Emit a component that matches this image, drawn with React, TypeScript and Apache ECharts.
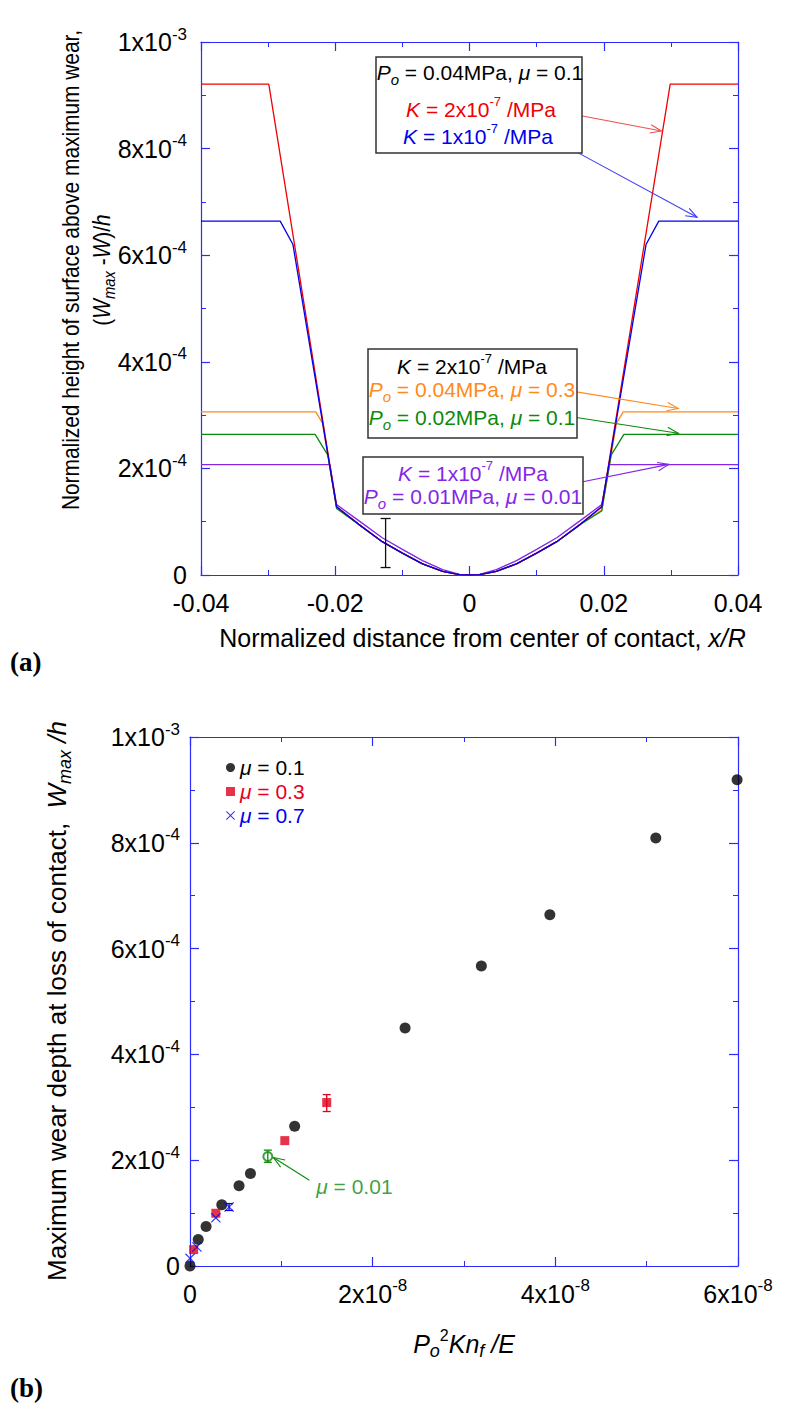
import React, { useEffect, useRef } from "react";
import * as echarts from "echarts";

const FONT = "'Liberation Sans', Arial, Helvetica, sans-serif";
const SERIF = "'Liberation Serif', 'Times New Roman', serif";
const AXIS_BLUE = "#2b2bff";
const RED = "#f00000";
const BLUE = "#0000ee";
const ORANGE = "#ff8a1c";
const GREEN = "#0b8a0b";
const PURPLE = "#8526e6";

// ---------- Tick labels ----------
const aXTickLabels = ["-0.04", "-0.02", "0", "0.02", "0.04"];
const aYTickLabels = ["0", "2x10^-4", "4x10^-4", "6x10^-4", "8x10^-4", "1x10^-3"];
const bXTickLabels = ["0", "2x10^-8", "4x10^-8", "6x10^-8"];
const bYTickLabels = ["0", "2x10^-4", "4x10^-4", "6x10^-4", "8x10^-4", "1x10^-3"];

// ---------- Panel (a): wear profiles ----------
const bowlX = [-0.0165, -0.013, -0.01, -0.007, -0.004, -0.0015, 0, 0.0015, 0.004, 0.007, 0.01, 0.013, 0.0165];
const bowlY = [0.95e-4, 0.625e-4, 0.41e-4, 0.21e-4, 0.07e-4, 0.005e-4, 0, 0.005e-4, 0.07e-4, 0.21e-4, 0.41e-4, 0.625e-4, 0.95e-4];
const purpleBowlY = [1.02e-4, 0.7e-4, 0.48e-4, 0.27e-4, 0.1e-4, 0.01e-4, 0, 0.01e-4, 0.1e-4, 0.27e-4, 0.48e-4, 0.7e-4, 1.02e-4];

const redLeftX = [-0.04, -0.0299, -0.0198];
const redLeftY = [9.21e-4, 9.21e-4, 1.28e-4];
const redRightX = [0.0197, 0.0299, 0.04];
const redRightY = [1.28e-4, 9.21e-4, 9.21e-4];

const blueLeftX = [-0.04, -0.0282, -0.0263, -0.0198];
const blueLeftY = [6.64e-4, 6.64e-4, 6.2e-4, 1.28e-4];
const blueRightX = [0.0197, 0.0263, 0.0282, 0.04];
const blueRightY = [1.28e-4, 6.2e-4, 6.64e-4, 6.64e-4];

const orangeLeftX = [-0.04, -0.0229, -0.0219, -0.0198];
const orangeLeftY = [3.06e-4, 3.06e-4, 2.85e-4, 1.26e-4];
const orangeRightX = [0.0197, 0.0219, 0.0229, 0.04];
const orangeRightY = [1.22e-4, 2.85e-4, 3.06e-4, 3.06e-4];

const greenLeftX = [-0.04, -0.023, -0.0211, -0.0198];
const greenLeftY = [2.64e-4, 2.64e-4, 2.25e-4, 1.25e-4];
const greenRightX = [0.0197, 0.0211, 0.023, 0.04];
const greenRightY = [1.2e-4, 2.25e-4, 2.64e-4, 2.64e-4];

const purpleLeftX = [-0.04, -0.0208, -0.0198];
const purpleLeftY = [2.07e-4, 2.07e-4, 1.32e-4];
const purpleRightX = [0.0197, 0.0208, 0.04];
const purpleRightY = [1.32e-4, 2.07e-4, 2.07e-4];

// error bar in (a)
const aErrX = [-0.0125];
const aErrLow = [0.14e-4];
const aErrHigh = [1.06e-4];

// annotation arrows in (a)
const aArrowX1 = [0.0135, 0.014, 0.0157, 0.0157, 0.0145];
const aArrowY1 = [8.69e-4, 8.07e-4, 3.44e-4, 2.96e-4, 1.69e-4];
const aArrowX2 = [0.0286, 0.0339, 0.0311, 0.0311, 0.0297];
const aArrowY2 = [8.33e-4, 6.71e-4, 3.125e-4, 2.66e-4, 2.075e-4];
const aArrowColors = ["#f05050", "#4040f0", ORANGE, GREEN, PURPLE];

// ---------- Panel (b): maximum wear depth ----------
const mu01X = [0, 0.09e-8, 0.176e-8, 0.348e-8, 0.537e-8, 0.662e-8, 1.146e-8, 2.355e-8, 3.19e-8, 3.94e-8, 5.1e-8, 5.99e-8];
const mu01Y = [0, 0.5e-4, 0.746e-4, 1.158e-4, 1.515e-4, 1.75e-4, 2.64e-4, 4.5e-4, 5.67e-4, 6.64e-4, 8.09e-4, 9.19e-4];
const mu03X = [0.04e-8, 0.283e-8, 1.038e-8, 1.497e-8];
const mu03Y = [0.31e-4, 0.997e-4, 2.37e-4, 3.09e-4];
const mu07X = [0, 0.075e-8, 0.283e-8, 0.428e-8];
const mu07Y = [0.145e-4, 0.36e-4, 0.91e-4, 1.115e-4];
const mu001X = [0.852e-8];
const mu001Y = [2.07e-4];

const bErrX = [1.497e-8, 0.428e-8, 0.852e-8];
const bErrLow = [2.92e-4, 1.05e-4, 1.96e-4];
const bErrHigh = [3.24e-4, 1.18e-4, 2.19e-4];
const bErrColors = ["#e0001b", BLUE, GREEN];

const bArrowX1 = [1.307e-8];
const bArrowY1 = [1.62e-4];
const bArrowX2 = [0.913e-8];
const bArrowY2 = [2.05e-4];

const bNoteX = [1.8e-8];
const bNoteY = [1.51e-4];

const XPATH =
  "path://M0,0.8L0.8,0L5,4.2L9.2,0L10,0.8L5.8,5L10,9.2L9.2,10L5,5.8L0.8,10L0,9.2L4.2,5Z";

const pairs = (xs: number[], ys: number[]) => xs.map((x, i) => [x, ys[i]]);

function tickRich(size: number) {
  const s = Math.round(size * 0.66);
  return {
    n: { fontSize: size, fontFamily: FONT, color: "#000", lineHeight: size + 8 },
    sup: { fontSize: s, fontFamily: FONT, color: "#000", verticalAlign: "top", lineHeight: s },
  };
}
function richTick(s: string) {
  const [m, e] = s.split("^");
  return e ? `{n|${m}}{sup|${e}}` : `{n|${m}}`;
}

// zrender-style rich dictionary for graphic texts
function zrRich(color: string, size: number) {
  const small = Math.round(size * 0.62);
  return {
    n: { fill: color, fontSize: size, fontFamily: FONT, lineHeight: size + 8 },
    i: { fill: color, fontSize: size, fontFamily: FONT, fontStyle: "italic", lineHeight: size + 8 },
    sup: { fill: color, fontSize: small, fontFamily: FONT, verticalAlign: "top", lineHeight: small },
    sub: { fill: color, fontSize: small + 2, fontFamily: FONT, fontStyle: "italic", verticalAlign: "bottom", lineHeight: small + 2 },
  };
}
function optRich(color: string, size: number) {
  const small = Math.round(size * 0.62);
  return {
    n: { color, fontSize: size, fontFamily: FONT, lineHeight: size + 8 },
    i: { color, fontSize: size, fontFamily: FONT, fontStyle: "italic", lineHeight: size + 8 },
    sup: { color, fontSize: small, fontFamily: FONT, verticalAlign: "top", lineHeight: small },
    sub: { color, fontSize: small + 2, fontFamily: FONT, fontStyle: "italic", verticalAlign: "bottom", lineHeight: small + 2 },
  };
}

function axisStyle() {
  return {
    axisLine: { show: true, onZero: false, lineStyle: { color: AXIS_BLUE, width: 1.2 } },
    axisTick: { show: true, inside: true, length: 9, lineStyle: { color: AXIS_BLUE, width: 1.2 } },
    minorTick: { show: true, splitNumber: 2, length: 5, lineStyle: { color: AXIS_BLUE, width: 1 } },
    splitLine: { show: false },
    minorSplitLine: { show: false },
  };
}

function errRender(capHalf: number) {
  return (params: any, api: any) => {
    const x = api.value(0);
    const a = api.coord([x, api.value(1)]);
    const b = api.coord([x, api.value(2)]);
    const color = api.visual("color");
    const st = { stroke: color, lineWidth: 1.3 };
    return {
      type: "group",
      children: [
        { type: "line", shape: { x1: a[0], y1: a[1], x2: b[0], y2: b[1] }, style: st },
        { type: "line", shape: { x1: a[0] - capHalf, y1: a[1], x2: a[0] + capHalf, y2: a[1] }, style: st },
        { type: "line", shape: { x1: b[0] - capHalf, y1: b[1], x2: b[0] + capHalf, y2: b[1] }, style: st },
      ],
    };
  };
}

function arrowRender(params: any, api: any) {
  const p1 = api.coord([api.value(0), api.value(1)]);
  const p2 = api.coord([api.value(2), api.value(3)]);
  const color = api.visual("color");
  const ang = Math.atan2(p2[1] - p1[1], p2[0] - p1[0]);
  const L = 12;
  const sp = 0.36;
  const h1 = [p2[0] - L * Math.cos(ang - sp), p2[1] - L * Math.sin(ang - sp)];
  const h2 = [p2[0] - L * Math.cos(ang + sp), p2[1] - L * Math.sin(ang + sp)];
  return {
    type: "group",
    children: [
      { type: "line", shape: { x1: p1[0], y1: p1[1], x2: p2[0], y2: p2[1] }, style: { stroke: color, lineWidth: 1.1 } },
      { type: "polyline", shape: { points: [h1, p2, h2] }, style: { stroke: color, lineWidth: 1.1, fill: null } },
    ],
  };
}

function buildOption() {
  const G0 = { left: 201, top: 42, width: 537, height: 533 };
  const G1 = { left: 190, top: 737, width: 548, height: 529 };
  const TICK = 25;

  const profile = (name: string, color: string, lx: number[], ly: number[], by: number[], rx: number[], ry: number[], z: number) => ({
    name,
    type: "line",
    xAxisIndex: 0,
    yAxisIndex: 0,
    symbol: "none",
    z,
    lineStyle: { color, width: 1.3 },
    itemStyle: { color },
    data: [...pairs(lx, ly), ...pairs(bowlX, by), ...pairs(rx, ry)],
  });

  const boxLine = (text: string, color: string, x: number, y: number) => ({
    type: "text",
    x,
    y,
    z: 101,
    style: { text, rich: zrRich(color, 21), align: "center", verticalAlign: "middle", fill: color, fontSize: 21, fontFamily: FONT },
  });
  const boxRect = (x: number, y: number, w: number, h: number) => ({
    type: "rect",
    z: 100,
    shape: { x, y, width: w, height: h },
    style: { fill: "#fff", stroke: "#333", lineWidth: 1.5 },
  });

  return {
    animation: false,
    backgroundColor: "#fff",
    grid: [
      { ...G0, containLabel: false },
      { ...G1, containLabel: false },
    ],
    xAxis: [
      {
        type: "value", gridIndex: 0, position: "bottom", min: -0.04, max: 0.04, interval: 0.02,
        ...axisStyle(),
        axisLabel: { margin: 11, formatter: (v: number) => richTick(aXTickLabels[Math.round((v + 0.04) / 0.02)] ?? ""), rich: tickRich(TICK) },
        name: "{n|Normalized distance from center of contact, }{i|x/R}",
        nameLocation: "middle", nameGap: 46,
        nameTextStyle: { rich: optRich("#000", 25), padding: [0, 0, 0, 26] },
      },
      { type: "value", gridIndex: 0, position: "top", min: -0.04, max: 0.04, interval: 0.02, ...axisStyle(), axisLabel: { show: false } },
      {
        type: "value", gridIndex: 1, position: "bottom", min: 0, max: 6e-8, interval: 2e-8,
        ...axisStyle(),
        axisLabel: { margin: 11, formatter: (v: number) => richTick(bXTickLabels[Math.round(v / 2e-8)] ?? ""), rich: tickRich(TICK) },
        name: "{i|P}{sub|o}{sup|2}{i|Kn}{sub|f}{i| /E}",
        nameLocation: "middle", nameGap: 61,
        nameTextStyle: { rich: optRich("#000", 25) },
      },
      { type: "value", gridIndex: 1, position: "top", min: 0, max: 6e-8, interval: 2e-8, ...axisStyle(), axisLabel: { show: false } },
    ],
    yAxis: [
      {
        type: "value", gridIndex: 0, position: "left", min: 0, max: 1e-3, interval: 2e-4,
        ...axisStyle(),
        axisLabel: { margin: 14, formatter: (v: number) => richTick(aYTickLabels[Math.round(v / 2e-4)] ?? ""), rich: tickRich(TICK) },
      },
      { type: "value", gridIndex: 0, position: "right", min: 0, max: 1e-3, interval: 2e-4, ...axisStyle(), axisLabel: { show: false } },
      {
        type: "value", gridIndex: 1, position: "left", min: 0, max: 1e-3, interval: 2e-4,
        ...axisStyle(),
        axisLabel: { margin: 10, formatter: (v: number) => richTick(bYTickLabels[Math.round(v / 2e-4)] ?? ""), rich: tickRich(TICK) },
      },
      { type: "value", gridIndex: 1, position: "right", min: 0, max: 1e-3, interval: 2e-4, ...axisStyle(), axisLabel: { show: false } },
    ],
    legend: {
      orient: "vertical",
      left: 221,
      top: 752,
      itemWidth: 9,
      itemHeight: 9,
      itemGap: 3,
      selectedMode: false,
      formatter: (name: string) => {
        const k = name === "μ = 0.1" ? "1" : name === "μ = 0.3" ? "3" : "7";
        return `{i${k}|μ}{n${k}|${name.slice(1)}}`;
      },
      textStyle: {
        fontSize: 21,
        fontFamily: FONT,
        rich: {
          i1: { color: "#000", fontStyle: "italic", fontSize: 21, fontFamily: FONT, lineHeight: 24 },
          n1: { color: "#000", fontSize: 21, fontFamily: FONT, lineHeight: 24 },
          i3: { color: "#e8001c", fontStyle: "italic", fontSize: 21, fontFamily: FONT, lineHeight: 24 },
          n3: { color: "#e8001c", fontSize: 21, fontFamily: FONT, lineHeight: 24 },
          i7: { color: BLUE, fontStyle: "italic", fontSize: 21, fontFamily: FONT, lineHeight: 24 },
          n7: { color: BLUE, fontSize: 21, fontFamily: FONT, lineHeight: 24 },
        },
      },
      data: [
        { name: "μ = 0.1", icon: "circle", itemStyle: { color: "#000" } },
        { name: "μ = 0.3", icon: "rect" },
        { name: "μ = 0.7", icon: XPATH },
      ],
    },
    series: [
      profile("Po=0.04MPa, μ=0.3, K=2e-7", ORANGE, orangeLeftX, orangeLeftY, bowlY, orangeRightX, orangeRightY, 2),
      profile("Po=0.02MPa, μ=0.1, K=2e-7", GREEN, greenLeftX, greenLeftY, bowlY, greenRightX, greenRightY, 3),
      profile("Po=0.01MPa, μ=0.01, K=1e-7", PURPLE, purpleLeftX, purpleLeftY, purpleBowlY, purpleRightX, purpleRightY, 4),
      profile("K=2e-7, Po=0.04MPa, μ=0.1", RED, redLeftX, redLeftY, bowlY, redRightX, redRightY, 5),
      profile("K=1e-7, Po=0.04MPa, μ=0.1", BLUE, blueLeftX, blueLeftY, bowlY, blueRightX, blueRightY, 6),
      {
        name: "error (a)", type: "custom", xAxisIndex: 0, yAxisIndex: 0, z: 7,
        itemStyle: { color: "#111" },
        encode: { x: 0, y: [1, 2] },
        renderItem: errRender(5),
        data: aErrX.map((x, i) => [x, aErrLow[i], aErrHigh[i]]),
      },
      {
        name: "arrows (a)", type: "custom", xAxisIndex: 0, yAxisIndex: 0, z: 8,
        encode: { x: [0, 2], y: [1, 3] },
        renderItem: arrowRender,
        data: aArrowX1.map((x, i) => ({ value: [x, aArrowY1[i], aArrowX2[i], aArrowY2[i]], itemStyle: { color: aArrowColors[i] } })),
      },
      // panel (b)
      {
        name: "μ = 0.01", type: "scatter", xAxisIndex: 2, yAxisIndex: 2, z: 4,
        symbol: "emptyCircle", symbolSize: 9,
        itemStyle: { color: GREEN, borderColor: GREEN, borderWidth: 1.2 },
        data: pairs(mu001X, mu001Y),
      },
      {
        name: "μ = 0.3", type: "scatter", xAxisIndex: 2, yAxisIndex: 2, z: 5,
        symbol: "rect", symbolSize: 9,
        itemStyle: { color: "#e0001b" },
        data: pairs(mu03X, mu03Y),
      },
      {
        name: "μ = 0.7", type: "scatter", xAxisIndex: 2, yAxisIndex: 2, z: 6,
        symbol: XPATH, symbolSize: 10,
        itemStyle: { color: BLUE },
        data: pairs(mu07X, mu07Y),
      },
      {
        name: "μ = 0.1", type: "scatter", xAxisIndex: 2, yAxisIndex: 2, z: 4,
        symbol: "circle", symbolSize: 11,
        itemStyle: { color: "#000" },
        data: pairs(mu01X, mu01Y),
      },
      {
        name: "error (b)", type: "custom", xAxisIndex: 2, yAxisIndex: 2, z: 7,
        encode: { x: 0, y: [1, 2] },
        renderItem: errRender(4),
        data: bErrX.map((x, i) => ({ value: [x, bErrLow[i], bErrHigh[i]], itemStyle: { color: bErrColors[i] } })),
      },
      {
        name: "arrow (b)", type: "custom", xAxisIndex: 2, yAxisIndex: 2, z: 8,
        encode: { x: [0, 2], y: [1, 3] },
        itemStyle: { color: GREEN },
        renderItem: arrowRender,
        data: bArrowX1.map((x, i) => [x, bArrowY1[i], bArrowX2[i], bArrowY2[i]]),
      },
      {
        name: "note μ = 0.01", type: "scatter", xAxisIndex: 2, yAxisIndex: 2, z: 9,
        symbolSize: 1,
        itemStyle: { color: "rgba(0,0,0,0)" },
        label: { show: true, position: "inside", formatter: "{i|μ}{n| = 0.01}", rich: optRich(GREEN, 21) },
        data: pairs(bNoteX, bNoteY),
      },
    ],
    graphic: [
      // y-axis titles
      {
        type: "text", x: 71, y: 270, rotation: Math.PI / 2, scaleX: 0.87, z: 50,
        style: { text: "Normalized height of surface above maximum wear,", fill: "#000", fontSize: 24, fontFamily: FONT, align: "center", verticalAlign: "middle" },
      },
      {
        type: "text", x: 102, y: 270, rotation: Math.PI / 2, scaleX: 0.87, z: 50,
        style: { text: "{n|(}{i|W}{sub|max}{n| -}{i|W}{n|)/}{i|h}", rich: zrRich("#000", 24), fill: "#000", fontSize: 24, fontFamily: FONT, align: "center", verticalAlign: "middle" },
      },
      {
        type: "text", x: 57, y: 1001, rotation: Math.PI / 2, z: 50,
        style: { text: "{n|Maximum wear depth at loss of contact,  }{i|W}{sub|max}{i| /h}", rich: zrRich("#000", 26), fill: "#000", fontSize: 26, fontFamily: FONT, align: "center", verticalAlign: "middle" },
      },
      // panel labels
      { type: "text", x: 10, y: 662, z: 50, style: { text: "(a)", fill: "#000", fontSize: 27, fontWeight: "bold", fontFamily: SERIF, align: "left", verticalAlign: "middle" } },
      { type: "text", x: 10, y: 1388, z: 50, style: { text: "(b)", fill: "#000", fontSize: 27, fontWeight: "bold", fontFamily: SERIF, align: "left", verticalAlign: "middle" } },
      // annotation boxes in (a)
      boxRect(376, 57, 206, 96),
      boxLine("{i|P}{sub|o}{n| = 0.04MPa, }{i|μ}{n| = 0.1}", "#000", 480, 72),
      boxLine("{i|K}{n| = 2x10}{sup|-7}{n| /MPa}", RED, 481, 109),
      boxLine("{i|K}{n| = 1x10}{sup|-7}{n| /MPa}", BLUE, 478, 136),
      boxRect(368, 349, 209, 89),
      boxLine("{i|K}{n| = 2x10}{sup|-7}{n| /MPa}", "#000", 472, 366),
      boxLine("{i|P}{sub|o}{n| = 0.04MPa, }{i|μ}{n| = 0.3}", ORANGE, 472, 389),
      boxLine("{i|P}{sub|o}{n| = 0.02MPa, }{i|μ}{n| = 0.1}", GREEN, 472, 417),
      boxRect(363, 457, 220, 57),
      boxLine("{i|K}{n| = 1x10}{sup|-7}{n| /MPa}", PURPLE, 473, 473),
      boxLine("{i|P}{sub|o}{n| = 0.01MPa, }{i|μ}{n| = 0.01}", PURPLE, 473, 496),
    ],
  };
}

export default function App() {
  const ref = useRef<HTMLDivElement>(null);
  useEffect(() => {
    document.body.style.margin = "0";
    const chart = echarts.init(ref.current as HTMLDivElement, null, { renderer: "svg" });
    chart.setOption(buildOption() as any);
    return () => chart.dispose();
  }, []);
  return <div ref={ref} style={{ width: 792, height: 1406, background: "#fff" }} />;
}
